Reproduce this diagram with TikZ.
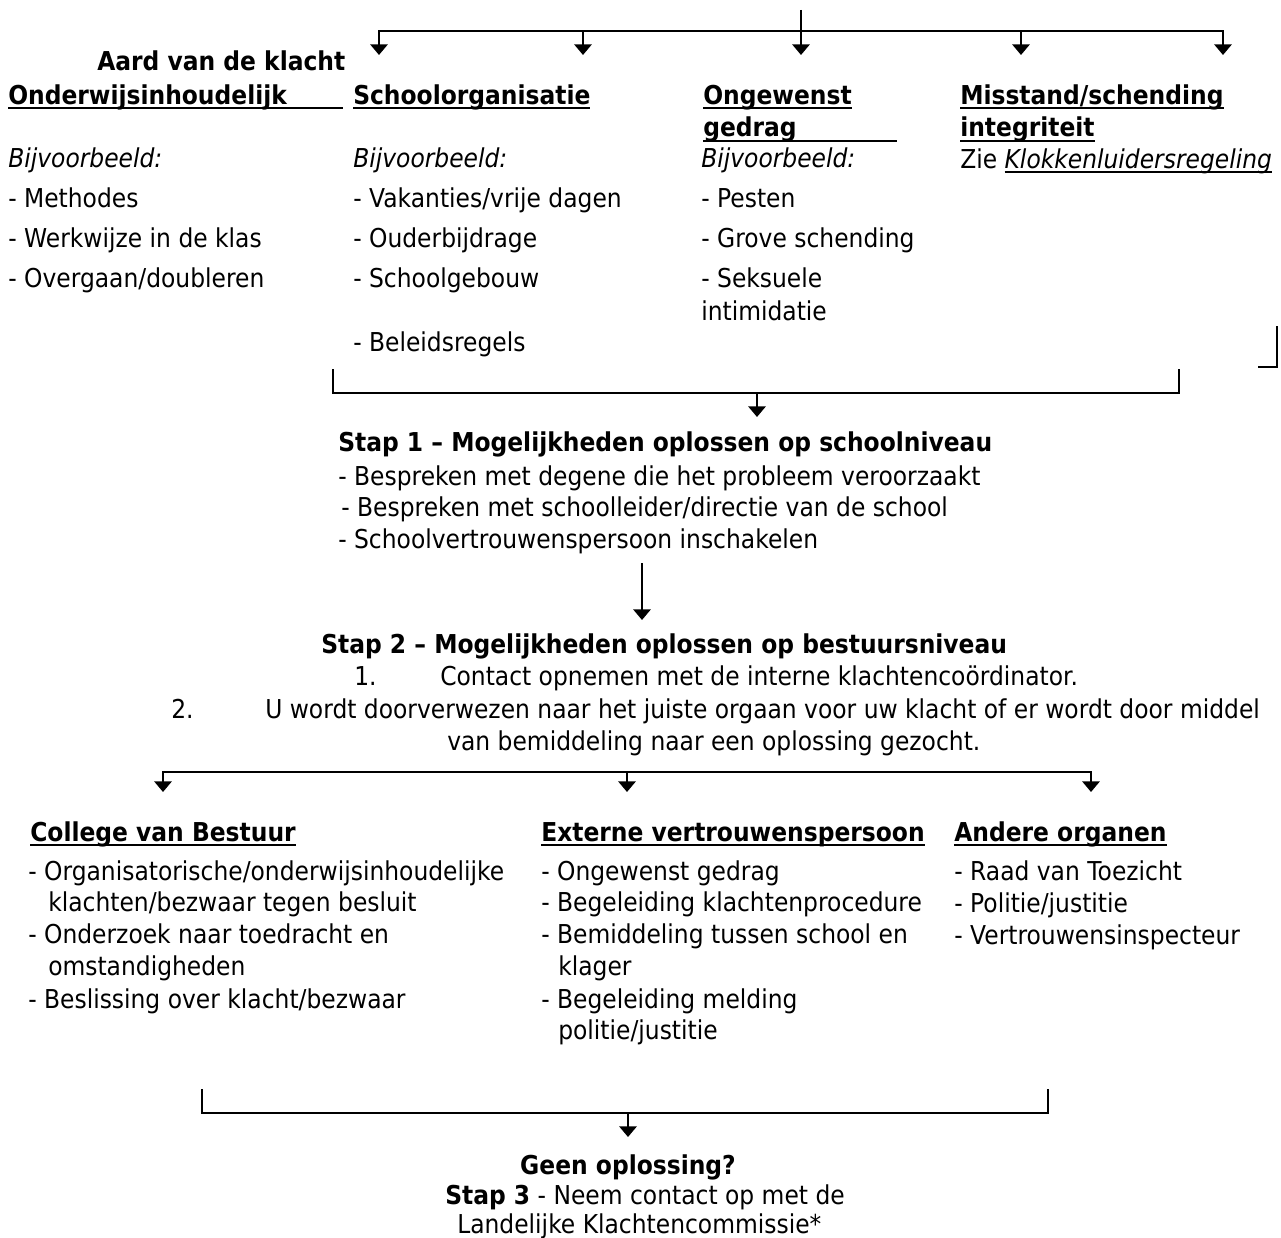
\documentclass[tikz,border=0pt]{standalone}
\usepackage{fontspec}
\setmainfont{DejaVu Sans}[FakeStretch=0.9]
\usetikzlibrary{arrows.meta}

\newsavebox\ulbox
\newlength\ulwd
\newcommand{\ulx}[2][0pt]{\sbox\ulbox{#2}\setlength\ulwd{\wd\ulbox}\ifdim#1>\ulwd\setlength\ulwd{#1}\fi\rlap{\rule[-3.8pt]{\ulwd}{1.5pt}}\usebox\ulbox}

\begin{document}
\begin{tikzpicture}[x=0.75pt, y=-0.75pt,
	every node/.style={inner sep=0pt, anchor=base west, font=\fontsize{19.5}{24}\selectfont},
	head/.style={font=\fontsize{19.5}{24}\selectfont\bfseries},
	conn/.style={line width=1.6pt},
	conarrow/.style={line width=1.6pt, -{Triangle[width=13pt,length=8pt]}}]
	\useasboundingbox (0,0) rectangle (1281,1238);
	
	%top split
	\coordinate (t0) at (801, 10);
	\coordinate (tb) at (801, 31);
	\foreach \x [count=\i] in {379, 583, 801, 1021, 1223}
		\coordinate (t\i) at (\x, 55);
	\draw[conn] (t0) -- (tb);
	\foreach \i in {1,2,4,5}
		\draw[conarrow] (tb) -| (t\i);
	\draw[conarrow] (tb) -- (t3);
	
	%kinds of complaint
	\node[head] (aard) at (97, 71){Aard van de klacht};
	\node[head] (h1) at (8, 104){\ulx[251pt]{Onderwijsinhoudelijk}};
	\node[head] (h2) at (353, 104){\ulx{Schoolorganisatie}};
	\node[head] (h3) at (703, 104){\ulx{Ongewenst}};
	\node[head] (h3b) at (703, 137){\ulx[145pt]{gedrag}};
	\node[head] (h4) at (960, 104){\ulx{Misstand/schending}};
	\node[head] (h4b) at (960, 137){\ulx{integriteit}};
	\node (zie) at (960, 168){Zie \textit{\ulx{Klokkenluidersregeling}}};
	
	\foreach \x/\n in {8/1, 353/2, 701/3}
		\node (bv\n) at (\x, 167){\textit{Bijvoorbeeld:}};
	
	\foreach \t [count=\i] in {Methodes, Werkwijze in de klas, Overgaan/doubleren}
		\node (oa\i) at (8, 167+40*\i){- \t};
	\foreach \t [count=\i] in {Vakanties/vrije dagen, Ouderbijdrage, Schoolgebouw}
		\node (ob\i) at (353, 167+40*\i){- \t};
	\node (ob4) at (353, 351){- Beleidsregels};
	\foreach \t [count=\i] in {Pesten, Grove schending, Seksuele}
		\node (oc\i) at (701, 167+40*\i){- \t};
	\node (oc4) at (701, 320){intimidatie};
	
	\coordinate (k1) at (1277, 326);
	\coordinate (k2) at (1258, 367);
	\draw[conn, line width=1.2pt] (k1) |- (k2);
	
	%join to step 1
	\coordinate (s1) at (333, 369);
	\coordinate (s2) at (1179, 369);
	\coordinate (sb) at (757, 393);
	\coordinate (st) at (757, 417);
	\draw[conn] (s1) |- (sb) -| (s2);
	\draw[conarrow] (sb) -- (st);
	
	\node[head] (stap1) at (338, 451){Stap 1 – Mogelijkheden oplossen op schoolniveau};
	\node (p1) at (338, 485){- Bespreken met degene die het probleem veroorzaakt};
	\node (p2) at (341, 516){- Bespreken met schoolleider/directie van de school};
	\node (p3) at (338, 548){- Schoolvertrouwenspersoon inschakelen};
	
	\coordinate (m1) at (642, 563);
	\coordinate (m2) at (642, 620);
	\draw[conarrow] (m1) -- (m2);
	
	%step 2
	\node[head] (stap2) at (321, 653){Stap 2 – Mogelijkheden oplossen op bestuursniveau};
	\node (n1) at (354, 685){1.};
	\node (q1) at (440, 685){Contact opnemen met de interne klachtencoördinator.};
	\node (n2) at (171, 718){2.};
	\node (q2) at (265, 718){U wordt doorverwezen naar het juiste orgaan voor uw klacht of er wordt door middel};
	\node (q3) at (447, 750){van bemiddeling naar een oplossing gezocht.};
	
	\coordinate (bb) at (627, 772);
	\foreach \x [count=\i] in {163, 627, 1091}
		\coordinate (b\i) at (\x, 792);
	\draw[conarrow] (bb) -| (b1);
	\draw[conarrow] (bb) -- (b2);
	\draw[conarrow] (bb) -| (b3);
	
	%where to go
	\node[head] (ca) at (30, 841){\ulx{College van Bestuur}};
	\node[head] (cb) at (541, 841){\ulx{Externe vertrouwenspersoon}};
	\node[head] (cc) at (954, 841){\ulx{Andere organen}};
	
	\node (ca1) at (28, 880){- Organisatorische/onderwijsinhoudelijke};
	\node (ca2) at (48, 911){klachten/bezwaar tegen besluit};
	\node (ca3) at (28, 943){- Onderzoek naar toedracht en};
	\node (ca4) at (48, 975){omstandigheden};
	\node (ca5) at (28, 1008){- Beslissing over klacht/bezwaar};
	
	\node (cb1) at (541, 880){- Ongewenst gedrag};
	\node (cb2) at (541, 911){- Begeleiding klachtenprocedure};
	\node (cb3) at (541, 943){- Bemiddeling tussen school en};
	\node (cb4) at (558, 975){klager};
	\node (cb5) at (541, 1008){- Begeleiding melding};
	\node (cb6) at (558, 1039){politie/justitie};
	
	\foreach \t [count=\i] in {Raad van Toezicht, Politie/justitie, Vertrouwensinspecteur}
		\node (cc\i) at (954, 848+32*\i){- \t};
	
	%step 3
	\coordinate (c1) at (202, 1089);
	\coordinate (c2) at (1048, 1089);
	\coordinate (cm) at (628, 1113);
	\coordinate (ct) at (628, 1137);
	\draw[conn] (c1) |- (cm) -| (c2);
	\draw[conarrow] (cm) -- (ct);
	
	\node[head, anchor=base] (geen) at (628, 1174){Geen oplossing?};
	\node (stap3) at (445, 1204){\textbf{Stap 3} - Neem contact op met de};
	\node (lkc) at (457, 1233){Landelijke Klachtencommissie*};
\end{tikzpicture}
\end{document}
